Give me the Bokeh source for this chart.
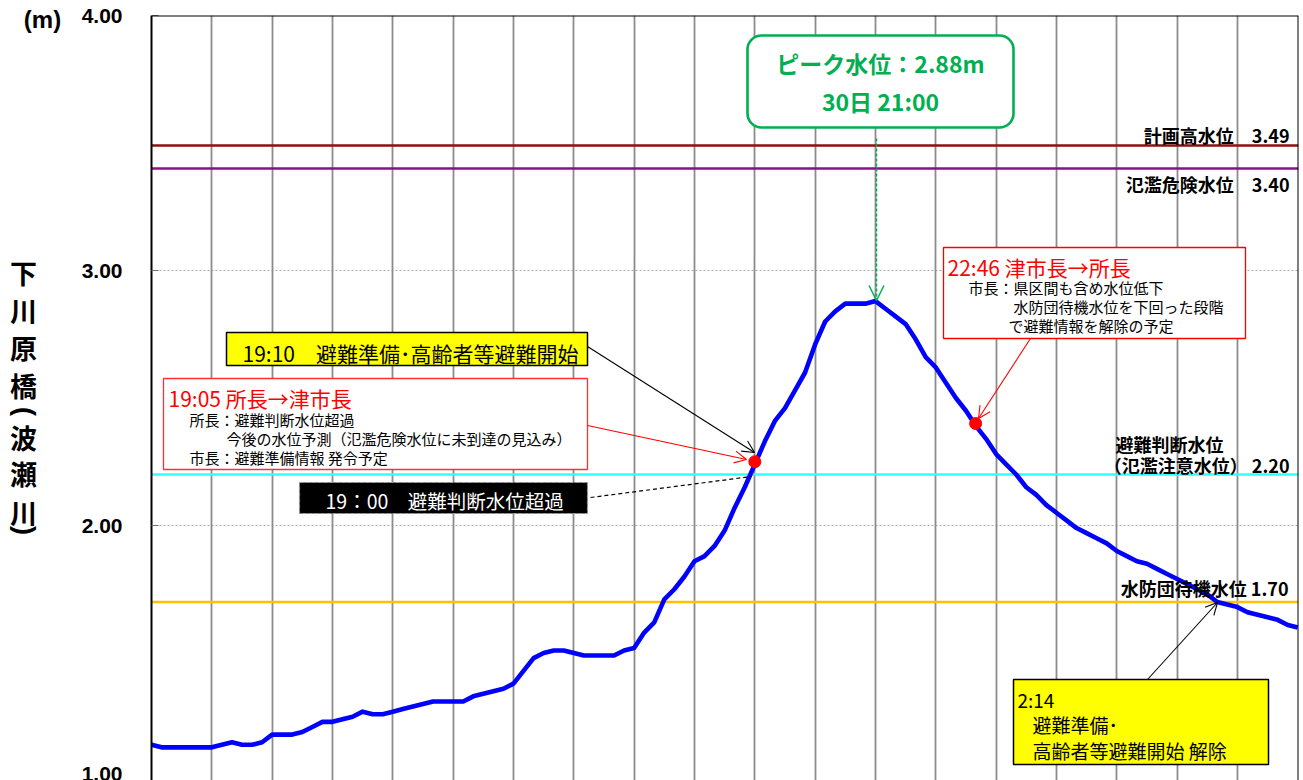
import math
from bokeh.plotting import figure
from bokeh.layouts import row
from bokeh.models import (Range1d, FixedTicker, Grid, Span, Label, BoxAnnotation,
                          Arrow, OpenHead, PrintfTickFormatter)
from bokeh.core.properties import value
from bokeh.embed import file_html
from bokeh.resources import INLINE

# ---------------- data ----------------
start_hour = 9          # 30日 9:00
step_minutes = 10
levels = [
    1.14, 1.13, 1.13, 1.13, 1.13, 1.13,   # 9時
    1.13, 1.14, 1.15, 1.14, 1.14, 1.15,   # 10時
    1.18, 1.18, 1.18, 1.19, 1.21, 1.23,   # 11時
    1.23, 1.24, 1.25, 1.27, 1.26, 1.26,   # 12時
    1.27, 1.28, 1.29, 1.30, 1.31, 1.31,   # 13時
    1.31, 1.31, 1.33, 1.34, 1.35, 1.36,   # 14時
    1.38, 1.43, 1.48, 1.50, 1.51, 1.51,   # 15時
    1.50, 1.49, 1.49, 1.49, 1.49, 1.51,   # 16時
    1.52, 1.58, 1.62, 1.71, 1.75, 1.80,   # 17時
    1.86, 1.88, 1.92, 1.98, 2.07, 2.15,   # 18時
    2.24, 2.33, 2.41, 2.46, 2.53, 2.60,   # 19時
    2.71, 2.80, 2.84, 2.87, 2.87, 2.87,   # 20時
    2.88, 2.85, 2.82, 2.79, 2.73, 2.66,   # 21時
    2.62, 2.56, 2.50, 2.45, 2.39, 2.34,   # 22時
    2.28, 2.24, 2.20, 2.15, 2.12, 2.08,   # 23時
    2.05, 2.02, 1.99, 1.97, 1.95, 1.93,   # 0時
    1.90, 1.88, 1.86, 1.85, 1.83, 1.81,   # 1時
    1.79, 1.77, 1.75, 1.73, 1.70, 1.69,   # 2時
    1.68, 1.66, 1.65, 1.64, 1.63, 1.61,   # 3時
    1.60,                                 # 4時
]
times = [start_hour + i * step_minutes / 60 for i in range(len(levels))]

threshold_names = ["計画高水位", "氾濫危険水位", "避難判断水位", "水防団待機水位"]
threshold_values = [3.49, 3.40, 2.20, 1.70]
threshold_colors = ["#8B1010", "#8B108B", "#33FFFF", "#FFC000"]

event_times = [19.0, 22.66]
event_levels = [2.25, 2.40]

y_ticks = [1, 2, 3, 4]
hour_lines = list(range(10, 28))

# ---------------- layout helpers ----------------
TOTAL_W, H = 1300, 780
LEFT_W = 70                       # narrow panel for the vertical axis title
FRAME_L, FRAME_T = 151, 15        # page px of the frame's left / top
PXH = 60.33                       # px per hour
MIN_R = 2
frame_right = TOTAL_W - MIN_R
frame_bottom = H
PXM = (frame_bottom - FRAME_T) / 3.0   # px per metre (1.00 .. 4.00)


def hx(px):
    return start_hour + (px - FRAME_L) / PXH


def my(py):
    return 4.0 - (py - FRAME_T) / PXM


x_end = hx(frame_right)

JP = "Noto Sans CJK JP"

# ---------- left panel: unit + vertical title ----------
lp = figure(width=LEFT_W, height=H, output_backend="svg", toolbar_location=None,
            title=None, x_axis_location=None, y_axis_location=None,
            x_range=Range1d(0, LEFT_W), min_border=0)
lp.outline_line_color = None
lp.grid.visible = False
if "frame_align" in lp.properties():
    lp.frame_align = False
    LEFT_TOP = 0
else:
    LEFT_TOP = FRAME_T                # frame aligned with the main frame
lp.y_range = Range1d(0, H - LEFT_TOP)


def ly(py):
    return H - py


lp.text(x=[42], y=[ly(19)], text=["(m)"], text_font=value("Liberation Sans"),
        text_font_size="24px", text_font_style="bold", text_align="center",
        text_baseline="middle", text_color="black")
title_chars = ["下", "川", "原", "橋", "波", "瀬", "川"]
title_y = [272, 310, 347, 385, 437, 473, 512]
lp.text(x=[23] * len(title_chars), y=[ly(t) for t in title_y], text=title_chars,
        text_font=value(JP), text_font_size="27px", text_font_style="bold",
        text_align="center", text_baseline="middle", text_color="black")
# parentheses of the vertical title, turned to vertical writing
paren_chars = ["(", ")"]
paren_y = [411, 530]
lp.text(x=[24, 24], y=[ly(t) for t in paren_y], text=paren_chars, angle=-math.pi / 2,
        text_font=value("Liberation Sans"), text_font_size="27px",
        text_font_style="bold", text_align="center", text_baseline="middle",
        text_color="black")

# ---------- main chart ----------
p = figure(width=TOTAL_W - LEFT_W, height=H, output_backend="svg", toolbar_location=None,
           title=None, x_axis_location=None, x_range=Range1d(start_hour, x_end),
           y_range=Range1d(1.0, 4.0),
           min_border_left=FRAME_L - LEFT_W, min_border_right=MIN_R,
           min_border_top=FRAME_T, min_border_bottom=0)
p.outline_line_color = None
p.background_fill_color = "white"

p.yaxis.ticker = FixedTicker(ticks=y_ticks)
p.yaxis.formatter = PrintfTickFormatter(format="%.2f")
p.yaxis.axis_line_color = "black"
p.yaxis.axis_line_width = 2
p.yaxis.major_tick_in = 7
p.yaxis.major_tick_out = 0
p.yaxis.major_tick_line_color = "#707070"
p.yaxis.minor_tick_line_color = None
p.yaxis.major_label_text_font = "Liberation Sans"
p.yaxis.major_label_text_font_style = "bold"
p.yaxis.major_label_text_font_size = "21px"
p.yaxis.major_label_text_color = "black"
p.yaxis.major_label_standoff = 29

p.ygrid.grid_line_color = "#a8a8a8"
p.ygrid.grid_line_dash = "2 2"
p.ygrid.grid_line_width = 1

p.add_layout(Grid(dimension=0, ticker=FixedTicker(ticks=hour_lines),
                  grid_line_color="#8c8c8c", grid_line_width=1.8))

for v, c in zip(threshold_values, threshold_colors):
    p.add_layout(Span(location=v, dimension="width", line_color=c,
                      line_width=2.5, level="underlay"))

p.add_layout(Span(location=4.0, dimension="width", line_color="black", line_width=2))
p.add_layout(Span(location=x_end, dimension="height", line_color="black", line_width=2))

p.line(times, levels, line_color="#0000FF", line_width=4.6, line_join="round")
p.scatter(event_times, event_levels, size=12, color="#FF0000")


def box(l, r, t, b, fill, line, lw=1.3, dash="solid", radius=0):
    p.add_layout(BoxAnnotation(left=hx(l), right=hx(r), top=my(t), bottom=my(b),
                               fill_color=fill, fill_alpha=1.0, line_color=line,
                               line_alpha=1.0, line_width=lw, line_dash=dash,
                               border_radius=radius))


def arrow(x0, y0, x1, y1, color, dash="solid", head=True, size=12, lw=1.1):
    end = OpenHead(size=size, line_color=color, line_width=lw) if head else None
    p.add_layout(Arrow(x_start=hx(x0), y_start=my(y0), x_end=hx(x1), y_end=my(y1),
                       line_color=color, line_width=lw, line_dash=dash, end=end))


def label(px, py, text, size, color="black", bold=False, align="left", font=JP):
    p.add_layout(Label(x=hx(px), y=my(py), text=text, text_font=font,
                       text_font_size=f"{size}px", text_color=color,
                       text_font_style="bold" if bold else "normal",
                       text_align=align, text_baseline="middle"))


box(747, 1013, 35, 127, "white", "#00B050", lw=2.6, radius=14)
box(943, 1245, 247, 338, "white", "#FF0000", lw=1.3)
box(226, 587, 332, 365, "#FFFF00", "black", lw=1.5)
box(163, 587, 378, 469, "white", "#FF3030", lw=1.3)
box(299, 587, 482, 513, "black", "#9a9a9a", lw=1.2, dash="4 2")
box(1013, 1268, 679, 764, "#FFFF00", "black", lw=1.5)

arrow(876, 138, 876, 300, "#00B050", dash="3 2", size=15, lw=1.5)
arrow(587, 346, 754, 452, "black")
arrow(587, 425, 746, 459, "#FF0000")
arrow(590, 497, 751, 476, "black", dash="4 3", head=False, lw=1.2)
arrow(1030, 338, 978, 418, "#FF0000")
arrow(1147, 679, 1217, 602, "black")

label(880, 62, "ピーク水位：2.88m", 23, color="#00B050", bold=True, align="center")
label(880, 100, "30日 21:00", 23, color="#00B050", bold=True, align="center")

label(1289, 134, "計画高水位　3.49", 18, bold=True, align="right")
label(1289, 183, "氾濫危険水位　3.40", 18, bold=True, align="right")
label(1115, 443, "避難判断水位", 18, bold=True)
label(1289, 464, "（氾濫注意水位） 2.20", 18, bold=True, align="right")
label(1288, 587, "水防団待機水位 1.70", 18, bold=True, align="right")

label(947, 266, "22:46 津市長→所長", 21, color="#FF0000")
label(968, 287, "市長：県区間も含め水位低下", 15)
label(1013, 306, "水防団待機水位を下回った段階", 15)
label(1008, 325, "で避難情報を解除の予定", 15)

label(242, 352, "19:10　避難準備･高齢者等避難開始", 21)

label(168, 397, "19:05 所長→津市長", 21, color="#FF0000")
label(189, 419, "所長：避難判断水位超過", 15)
label(226, 438, "今後の水位予測（氾濫危険水位に未到達の見込み）", 15)
label(189, 457, "市長：避難準備情報 発令予定", 15)

label(325, 500, "19：00　避難判断水位超過", 19.5, color="white")

label(1017, 699, "2:14", 19)
label(1032, 724, "避難準備･", 19)
label(1032, 750, "高齢者等避難開始 解除", 19)

layout = row(lp, p, spacing=0)
open("out.html", "w").write(file_html(layout, INLINE))
